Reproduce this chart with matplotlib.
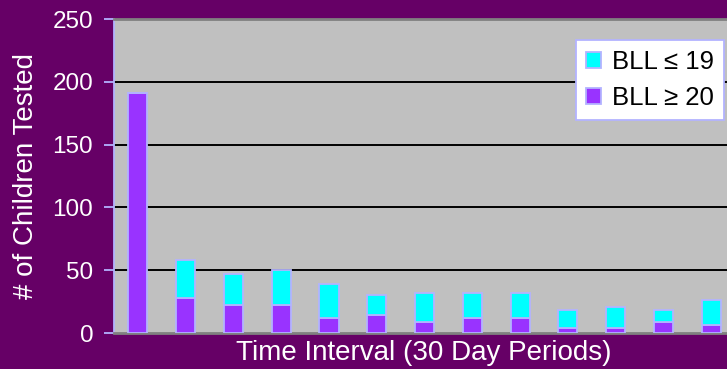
import numpy as np
import matplotlib.pyplot as plt

# Children tested per 30-day period, split by blood lead level
periods = np.arange(1, 14)
bll_high = [191, 28, 22, 22, 12, 14, 9, 12, 12, 4, 4, 9, 6]      # BLL >= 20
bll_low = [0, 30, 25, 28, 27, 16, 23, 20, 20, 14, 17, 9, 20]     # BLL <= 19

plt.rcParams['font.family'] = ['Liberation Sans', 'DejaVu Sans']

purple_bg = '#660066'
edge = '#B3B3FF'

fig = plt.figure(figsize=(7.27, 3.69), dpi=100, facecolor=purple_bg)
ax = fig.add_axes([114 / 727, 36 / 369, 1 - 114 / 727, 314 / 369])
ax.set_facecolor('#C0C0C0')

x = np.arange(len(periods))
w = 0.4
ax.bar(x, bll_high, width=w, color='#9933FF', edgecolor=edge, linewidth=1.3,
       label='BLL \u2265 20', zorder=3)
ax.bar(x, bll_low, width=w, bottom=bll_high, color='#00FFFF', edgecolor=edge,
       linewidth=1.3, label='BLL \u2264 19', zorder=3)

ax.set_ylim(0, 250)
ax.set_yticks(range(0, 251, 50))
ax.set_xlim(-0.5, 12.33)
ax.set_xticks([])

for y in (50, 100, 150, 200):
    ax.axhline(y, color='black', linewidth=1.4, zorder=1)

ax.spines['left'].set_color(edge)
ax.spines['left'].set_linewidth(1.3)
ax.spines['top'].set_color('#808080')
ax.spines['top'].set_linewidth(2)
ax.spines['bottom'].set_color('#808080')
ax.spines['bottom'].set_linewidth(2)
ax.spines['right'].set_visible(False)

ax.tick_params(axis='y', colors=edge, labelcolor='white', length=7, width=1.3,
               labelsize=17.5, pad=8)

ax.set_ylabel('# of Children Tested', color='white', fontsize=20, labelpad=10)
fig.text(424 / 727, 1 - 353 / 369, 'Time Interval (30 Day Periods)', color='white',
         fontsize=20, ha='center', va='center')

handles, labels = ax.get_legend_handles_labels()
leg = ax.legend(handles[::-1], labels[::-1], loc='upper right',
                bbox_to_anchor=(724 / 727, 1 - 40 / 369), bbox_transform=fig.transFigure,
                fontsize=18.5, frameon=True, fancybox=False, framealpha=1,
                handlelength=0.6, handleheight=0.6, handletextpad=0.4,
                borderpad=0.4, labelspacing=0.45, borderaxespad=0)
leg.get_frame().set_facecolor('white')
leg.get_frame().set_edgecolor(edge)
leg.get_frame().set_linewidth(1.3)
leg.set_zorder(5)

fig.savefig('out.png', dpi=100, facecolor=purple_bg)
